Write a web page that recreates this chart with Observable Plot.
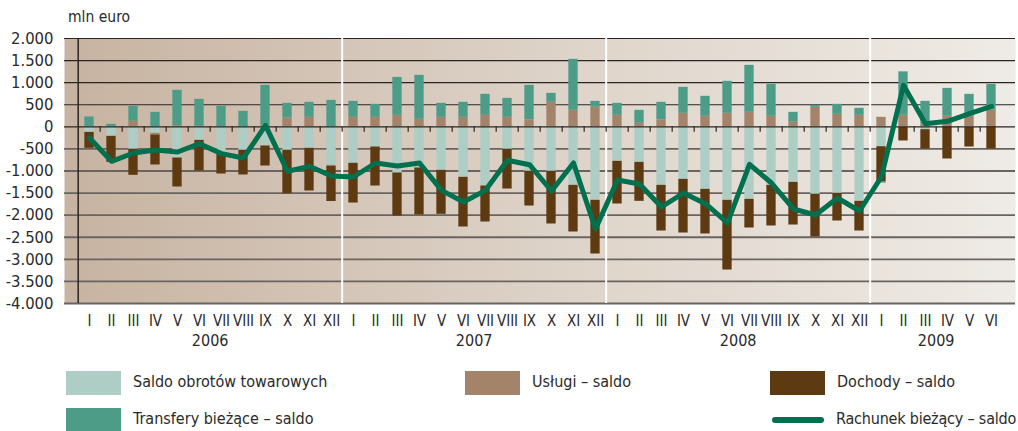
<!DOCTYPE html>
<html><head><meta charset="utf-8">
<script src="https://cdn.jsdelivr.net/npm/d3@7"></script>
<script src="https://cdn.jsdelivr.net/npm/@observablehq/plot@0.6"></script>
<style>
body{margin:0;background:#fff;font-family:"DejaVu Sans Condensed","Liberation Sans Narrow",sans-serif;color:#2a2a2a}
#wrap{position:relative;width:1018px;height:431px;overflow:hidden}
#chart{position:absolute;left:0;top:0}
.unit{position:absolute;left:68px;top:8px;font-size:15.5px}
.lg{position:absolute;font-size:16px;line-height:24px;white-space:nowrap}
.sw{position:absolute;width:55px;height:24px}
.ln{position:absolute;width:52px;height:6px;border-radius:3px;background:#00704e}
</style></head><body>
<div id="wrap">
<div id="chart"></div>
<div class="unit">mln euro</div>
<div class="sw" style="left:66px;top:371px;background:#aecdc4"></div><div class="lg" style="left:133px;top:370px">Saldo obrotów towarowych</div>
<div class="sw" style="left:465px;top:371px;background:#a3836a"></div><div class="lg" style="left:532px;top:370px">Usługi – saldo</div>
<div class="sw" style="left:770px;top:371px;background:#5e3a12"></div><div class="lg" style="left:837px;top:370px">Dochody – saldo</div>
<div class="sw" style="left:66px;top:408px;background:#4c9c88"></div><div class="lg" style="left:133px;top:407px">Transfery bieżące – saldo</div>
<div class="ln" style="left:772px;top:417px"></div><div class="lg" style="left:836px;top:407px;letter-spacing:-0.2px">Rachunek bieżący – saldo</div>
</div>
<script>
const monthLabels = ["I","II","III","IV","V","VI","VII","VIII","IX","X","XI","XII"];
const years = [2006, 2007, 2008, 2009];
const monthsPerYear = [12, 12, 12, 6];
const seriesNames = ["Saldo obrotów towarowych", "Usługi – saldo", "Dochody – saldo", "Transfery bieżące – saldo"];
const seriesColors = ["#aecdc4", "#a3836a", "#5e3a12", "#4c9c88"];
const trade = [
  -125, -215, -509, -147, -706, -306, -630, -532, -434, -532, -487, -872,
  -826, -457, -1045, -932, -985, -1143, -1340, -509, -1008, -1008, -1325, -1664,
  -781, -804, -1325, -1189, -1415, -1664, -1641, -1325, -1257, -1528, -1506, -1687,
  -450, -15, -64, 0, -15, 0
];
const services = [
  0, 0, 125, -38, 26, 11, 0, 0, 34, 200, 215, -20,
  215, 215, 260, 170, 215, 215, 260, 215, 155, 555, 374, 442,
  260, 79, 155, 306, 238, 306, 328, 238, 102, 442, 283, 260,
  215, 260, 57, 238, 238, 374
];
const income = [
  -362, -589, -589, -679, -656, -694, -438, -558, -453, -985, -966, -798,
  -899, -883, -974, -1064, -996, -1125, -815, -899, -785, -1192, -1056, -1215,
  -966, -883, -1034, -1215, -1011, -1578, -649, -920, -966, -966, -626, -672,
  -800, -305, -438, -728, -442, -502
];
const transfers = [
  223, 57, 339, 328, 800, 612, 464, 351, 905, 332, 340, 600,
  362, 294, 859, 996, 317, 340, 476, 430, 784, 203, 1154, 135,
  272, 295, 400, 588, 453, 724, 1064, 724, 226, 45, 226, 159,
  -25, 985, 520, 633, 498, 588
];
const currentAccount = [
  -253, -781, -592, -525, -570, -381, -607, -706, 34, -1007, -894, -1113,
  -1136, -819, -887, -819, -1438, -1702, -1438, -758, -857, -1453, -819, -2313,
  -1204, -1294, -1815, -1498, -1740, -2177, -849, -1272, -1860, -1996, -1611, -1906,
  -1130, 939, 72, 125, 298, 464
];
const yTicks = [2000, 1500, 1000, 500, 0, -500, -1000, -1500, -2000, -2500, -3000, -3500, -4000];

const periods = [];
years.forEach((y, i) => {
  for (let m = 0; m < monthsPerYear[i]; m++) periods.push({key: `${y}-${m + 1}`, year: y, month: monthLabels[m], m});
});
const keys = periods.map(p => p.key);
const seriesValues = [trade, services, income, transfers];
const rows = [];
seriesValues.forEach((vals, s) => vals.forEach((v, i) => rows.push({key: keys[i], series: seriesNames[s], value: v})));
const lineRows = currentAccount.map((v, i) => ({key: keys[i], value: v}));
const yearLabels = years.map((y, i) => {
  const n = monthsPerYear[i];
  return {year: String(y), key: `${y}-${Math.floor(n / 2) + 1}`, even: n % 2 === 0};
});
const yearStarts = periods.filter(p => p.m === 0 && p.year !== years[0]).map(p => p.key);

const W = 1018, H = 360, mL = 64, mR = 3, mT = 38, mB = H - 303;
const bw = (W - mL - mR) / keys.length;
const fmt = d => (d < 0 ? "-" : "") + d3.format(",")(Math.abs(d)).replace(/,/g, ".");
const font = '"DejaVu Sans Condensed","Liberation Sans Narrow",sans-serif';

const defs = () => {
  const ns = "http://www.w3.org/2000/svg";
  const g = document.createElementNS(ns, "defs");
  const lg = document.createElementNS(ns, "linearGradient");
  lg.setAttribute("id", "bgGrad");
  lg.setAttribute("x1", "0"); lg.setAttribute("x2", "1"); lg.setAttribute("y1", "0"); lg.setAttribute("y2", "0");
  [["0%", "#c7b3a1"], ["50%", "#ddd2c7"], ["100%", "#efebe6"]].forEach(([o, c]) => {
    const st = document.createElementNS(ns, "stop");
    st.setAttribute("offset", o); st.setAttribute("stop-color", c);
    lg.appendChild(st);
  });
  g.appendChild(lg);
  return g;
};

const chart = Plot.plot({
  width: W, height: H,
  marginLeft: mL, marginRight: mR, marginTop: mT, marginBottom: mB,
  style: {fontFamily: font, fontSize: "16px", color: "#2a2a2a", background: "transparent"},
  x: {domain: keys, padding: 0, axis: null},
  y: {domain: [-4000, 2000], axis: null},
  color: {domain: seriesNames, range: seriesColors},
  marks: [
    defs,
    Plot.frame({fill: "url(#bgGrad)", stroke: null}),
    Plot.ruleY(yTicks.filter(d => d > 0), {stroke: "#2a2522", strokeWidth: 1.2}),
    Plot.ruleY(yTicks.filter(d => d < 0), {stroke: "#6a6460", strokeWidth: 1.8}),
    Plot.ruleX(yearStarts, {x: d => d, dx: -bw / 2, stroke: "#ffffff", strokeWidth: 2}),
    Plot.barY(rows, {x: "key", y: "value", fill: "series", insetLeft: bw * 0.28, insetRight: bw * 0.28}),
    Plot.ruleY([0], {stroke: "#2a2522", strokeWidth: 1.2}),
    Plot.ruleX(keys.slice(1), {x: d => d, dx: -bw / 2, y1: 0, y2: -120, stroke: "#2a2522", strokeWidth: 1.2}),
    Plot.ruleX([keys[0]], {x: d => d, dx: -bw / 2, stroke: "#2a2522", strokeWidth: 1.5}),
    Plot.line(lineRows, {x: "key", y: "value", stroke: "#00704e", strokeWidth: 5, strokeLinejoin: "round", strokeLinecap: "round"}),
    Plot.axisY({ticks: yTicks, tickSize: 0, tickPadding: 11, tickFormat: fmt, fontSize: 16.5, label: null}),
    Plot.text(periods, {x: "key", text: "month", frameAnchor: "bottom", dy: 22, fontSize: 15, fill: "#2a2a2a"}),
    Plot.text(yearLabels.filter(d => d.even), {x: "key", text: "year", frameAnchor: "bottom", dy: 42, dx: -bw / 2, fontSize: 16, fill: "#2a2a2a"}),
    Plot.text(yearLabels.filter(d => !d.even), {x: "key", text: "year", frameAnchor: "bottom", dy: 42, fontSize: 16, fill: "#2a2a2a"})
  ]
});
document.getElementById("chart").appendChild(chart);
</script>
</body></html>
